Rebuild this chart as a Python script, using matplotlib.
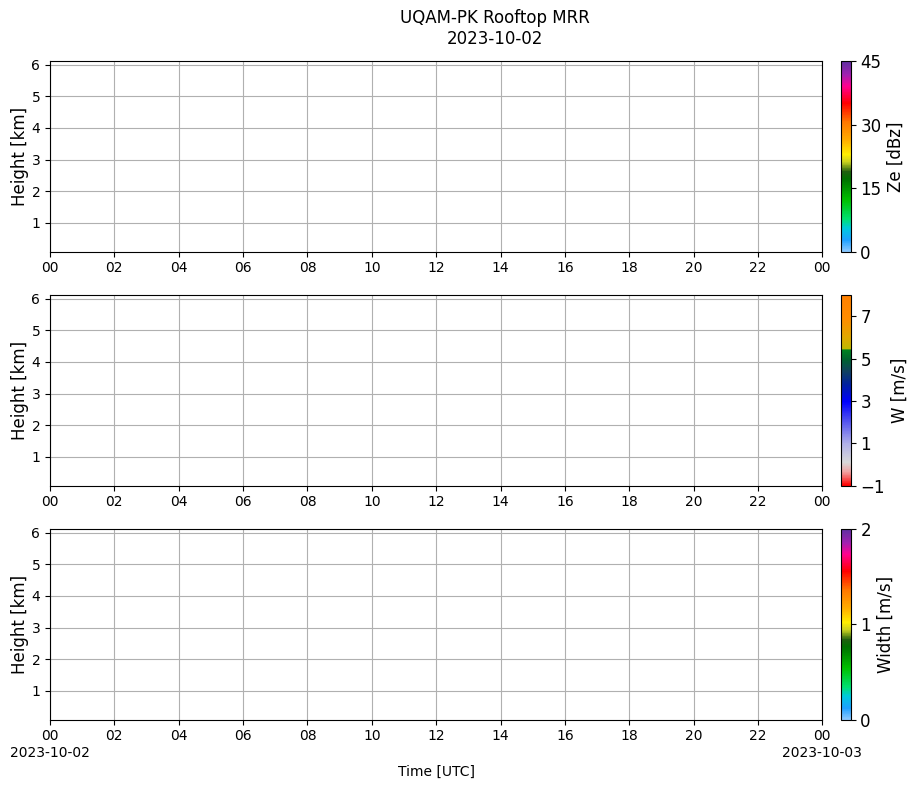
import datetime as dt
import numpy as np
import matplotlib
matplotlib.use("Agg")
import matplotlib.pyplot as plt
import matplotlib.dates as mdates
from matplotlib.colors import LinearSegmentedColormap, Normalize
from matplotlib.cm import ScalarMappable

# Datos (el día está vacío: no hay ecos)
day_start = dt.datetime(2023, 10, 2)
day_end = dt.datetime(2023, 10, 3)
title_text = "UQAM-PK Rooftop MRR\n2023-10-02"
ylim_km = (0.09, 6.11)
height_ticks = [1, 2, 3, 4, 5, 6]
panel_labels = ["Ze [dBz]", "W [m/s]", "Width [m/s]"]
panel_ranges = [(0, 45), (-1, 8), (0, 2)]
panel_cticks = [[0, 15, 30, 45], [-1, 1, 3, 5, 7], [0, 1, 2]]

# Sin datos válidos: matrices vacías (NaN)
times = mdates.date2num([day_start, day_end])
heights = np.array(ylim_km)
empty_field = np.full((1, 1), np.nan)

# Paletas
rain_colors = [
    (0.00, "#8ac8ff"), (0.06, "#1ea0ff"), (0.12, "#00c8e0"),
    (0.17, "#00e070"), (0.27, "#00c000"), (0.38, "#007000"),
    (0.42, "#206010"), (0.47, "#c8d020"), (0.51, "#ffee00"),
    (0.58, "#ffb000"), (0.68, "#ff7800"), (0.78, "#ff0000"),
    (0.87, "#ff0090"), (0.93, "#a020b0"), (1.00, "#6030a0"),
]
vel_colors = [
    (0.00, "#ff0000"), (0.07, "#f0a0a0"), (0.12, "#d8d8d8"),
    (0.22, "#b0b0e8"), (0.34, "#5050f0"), (0.44, "#0000ff"),
    (0.53, "#0020a0"), (0.60, "#104060"), (0.66, "#006030"),
    (0.71, "#008020"), (0.72, "#c0b800"), (0.78, "#e0a800"),
    (0.88, "#ff8c00"), (1.00, "#ff8000"),
]
cmap_ze = LinearSegmentedColormap.from_list("ze", rain_colors)
cmap_w = LinearSegmentedColormap.from_list("w", vel_colors)
cmaps = [cmap_ze, cmap_w, cmap_ze]

fig = plt.figure(figsize=(9.14, 7.88), dpi=100)
fig.suptitle(title_text, x=0.541, y=0.988, fontsize=12)

bottoms = [0.6806, 0.3836, 0.0867]
ax_left, ax_w, ax_h = 0.0547, 0.845, 0.2419
cb_left, cb_w = 0.920, 0.0106

hour_fmt = mdates.DateFormatter("%H")


def bottom_fmt(x, pos=None):
    d = mdates.num2date(x).replace(tzinfo=None)
    if abs(x - times[0]) < 1e-6 or abs(x - times[1]) < 1e-6:
        return d.strftime("%H\n%Y-%m-%d")
    return d.strftime("%H")


for i in range(3):
    ax = fig.add_axes([ax_left, bottoms[i], ax_w, ax_h])
    vmin, vmax = panel_ranges[i]
    norm = Normalize(vmin=vmin, vmax=vmax)
    ax.pcolormesh(times, heights, empty_field, cmap=cmaps[i], norm=norm)
    ax.set_xlim(times[0], times[1])
    ax.set_ylim(*ylim_km)
    ax.set_yticks(height_ticks)
    ax.xaxis.set_major_locator(mdates.HourLocator(byhour=range(0, 24, 2)))
    if i == 2:
        ax.xaxis.set_major_formatter(plt.FuncFormatter(bottom_fmt))
        ax.set_xlabel("Time [UTC]", fontsize=10)
    else:
        ax.xaxis.set_major_formatter(hour_fmt)
    ax.tick_params(labelsize=10)
    ax.set_ylabel("Height [km]", fontsize=12, labelpad=2)
    ax.grid(True)

    cax = fig.add_axes([cb_left, bottoms[i], cb_w, ax_h])
    cb = fig.colorbar(ScalarMappable(norm=norm, cmap=cmaps[i]), cax=cax)
    cb.set_ticks(panel_cticks[i])
    cb.ax.tick_params(labelsize=12)
    cb.set_label(panel_labels[i], fontsize=12)

fig.savefig("out.png", dpi=100)
